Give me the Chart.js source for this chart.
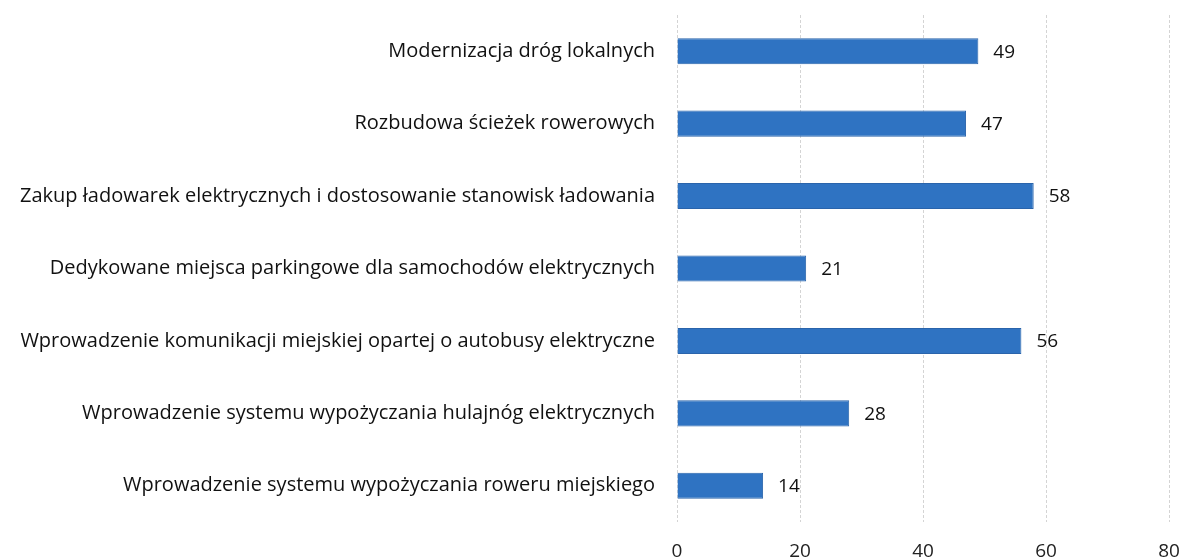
<!DOCTYPE html>
<html>
<head>
<meta charset="utf-8">
<script src="https://cdn.jsdelivr.net/npm/chart.js@4/dist/chart.umd.min.js"></script>
<style>
  html, body { margin: 0; padding: 0; background: #fff; }
  #wrap { width: 1181px; height: 560px; }
</style>
</head>
<body>
<div id="wrap"><canvas id="c" width="1181" height="560"></canvas></div>
<script>
const categories = [
  "Modernizacja dróg lokalnych",
  "Rozbudowa ścieżek rowerowych",
  "Zakup ładowarek elektrycznych i dostosowanie stanowisk ładowania",
  "Dedykowane miejsca parkingowe dla samochodów elektrycznych",
  "Wprowadzenie komunikacji miejskiej opartej o autobusy elektryczne",
  "Wprowadzenie systemu wypożyczania hulajnóg elektrycznych",
  "Wprowadzenie systemu wypożyczania roweru miejskiego"
];
const values = [49, 47, 58, 21, 56, 28, 14];
const xTicks = [0, 20, 40, 60, 80];

const FONT = "'Open Sans', 'Liberation Sans', sans-serif";

// Writes each bar's value just past its end
const valueLabels = {
  id: 'valueLabels',
  afterDatasetsDraw(chart) {
    const ctx = chart.ctx;
    const meta = chart.getDatasetMeta(0);
    ctx.save();
    ctx.font = "19px " + FONT;
    ctx.fillStyle = '#111';
    ctx.textBaseline = 'middle';
    ctx.textAlign = 'left';
    meta.data.forEach((bar, i) => {
      ctx.fillText(String(values[i]), bar.x + 15, bar.y + 1);
    });
    ctx.restore();
  }
};

new Chart(document.getElementById('c'), {
  type: 'bar',
  data: {
    labels: categories,
    datasets: [{
      data: values,
      backgroundColor: '#2f73c2',
      borderColor: '#2a64ab',
      borderWidth: 1,
      barPercentage: 0.36,
      categoryPercentage: 1.0
    }]
  },
  options: {
    indexAxis: 'y',
    responsive: false,
    animation: false,
    layout: { padding: { top: 15, right: 12, left: 0, bottom: 0 } },
    plugins: { legend: { display: false }, tooltip: { enabled: false } },
    scales: {
      x: {
        min: 0, max: 80,
        afterBuildTicks(scale) { scale.ticks = xTicks.map(v => ({ value: v })); },
        afterFit(scale) {
          scale.height = 38;
          scale.paddingLeft = 0;
          scale.paddingRight = 0;
        },
        grid: { color: '#d4d4d4', lineWidth: 1, drawTicks: false },
        border: { display: false, dash: [3, 2] },
        ticks: {
          font: { family: FONT, size: 19 },
          color: '#222',
          padding: 18
        }
      },
      y: {
        afterFit(scale) {
          scale.width = 677;
          scale.paddingTop = 0;
          scale.paddingBottom = 0;
        },
        grid: { display: false, drawTicks: false },
        border: { display: false },
        ticks: {
          font: { family: FONT, size: 20 },
          color: '#111',
          padding: 22,
          autoSkip: false
        }
      }
    }
  },
  plugins: [valueLabels]
});
</script>
</body>
</html>
